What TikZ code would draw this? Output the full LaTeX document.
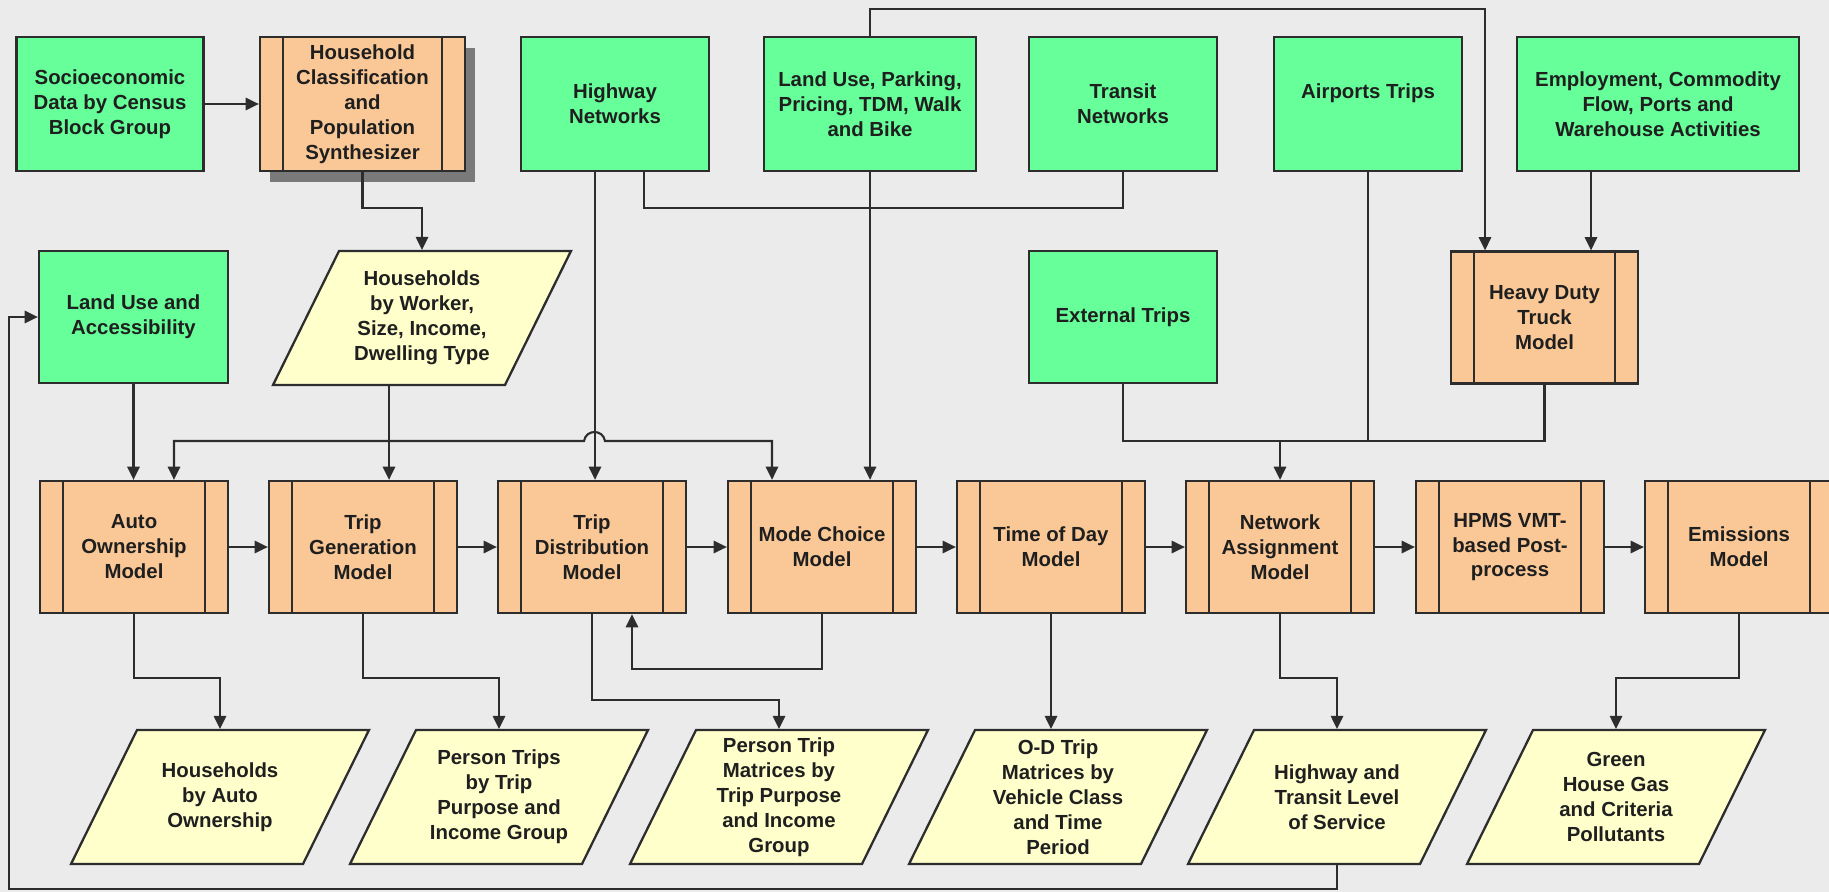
\documentclass[tikz,border=0pt]{standalone}
\usepackage{fontspec}
\setmainfont{Liberation Sans}
\usetikzlibrary{positioning}
\usetikzlibrary{shadows}
\usetikzlibrary{arrows.meta}

\definecolor{bgcol}{RGB}{235,235,235}
\definecolor{datagreen}{RGB}{102,255,153}
\definecolor{modelorange}{RGB}{250,200,150}
\definecolor{outyellow}{RGB}{255,255,204}
\definecolor{linecol}{RGB}{45,45,45}

\begin{document}
\begin{tikzpicture}[x=0.02cm, y=-0.02cm, line width=1.2pt, color=linecol,
  >={Triangle[length=7.5pt,width=7pt]},
  every node/.style={font=\fontsize{11.6}{14.2}\selectfont\bfseries, text=black!88, align=center, inner sep=1pt},
  input/.style={rectangle, draw=linecol, line width=1.3pt, fill=datagreen, minimum width=3.76cm, minimum height=2.68cm},
  model/.style={rectangle, draw=linecol, line width=1.3pt, fill=modelorange, minimum width=3.76cm, minimum height=2.64cm,
    path picture={
      \draw[linecol] ([xshift=0.46cm]path picture bounding box.north west) -- ([xshift=0.46cm]path picture bounding box.south west);
      \draw[linecol] ([xshift=-0.46cm]path picture bounding box.north east) -- ([xshift=-0.46cm]path picture bounding box.south east);
    }},
  output/.style={rectangle, minimum width=6.04cm, minimum height=2.76cm, outer ysep=-0.02cm,
    path picture={
      \filldraw[fill=outyellow, draw=linecol, line width=1.3pt]
        ([xshift=1.36cm, yshift=-0.04cm]path picture bounding box.north west)
        -- ([xshift=-0.04cm, yshift=-0.04cm]path picture bounding box.north east)
        -- ([xshift=-1.36cm, yshift=0.04cm]path picture bounding box.south east)
        -- ([xshift=0.04cm, yshift=0.04cm]path picture bounding box.south west) -- cycle;
    }}]

  \useasboundingbox (0,0) rectangle (1829,892);
  \clip (0,0) rectangle (1829,892);
  \fill[bgcol] (0,0) rectangle (1829,892);

  % inputs
  \node[input, minimum width=3.74cm] (socio) at (110,104) {Socioeconomic\\Data by Census\\Block Group};
  \node[model, minimum width=4.1cm, minimum height=2.68cm,
    drop shadow={shadow xshift=0.2cm, shadow yshift=-0.22cm, fill=black!52, opacity=1}] (hhclass) at (362.5,104)
    {Household\\Classification\\and\\Population\\Synthesizer};
  \node[input] (highway) at (615,104) {Highway\\Networks};
  \node[input, minimum width=4.24cm] (landpark) at (870,104) {Land Use, Parking,\\Pricing, TDM, Walk\\and Bike};
  \node[input] (transit) at (1123,104) {Transit\\Networks};
  \node[input] (airport) at (1368,104) {Airports Trips\\~};
  \node[input, minimum width=5.64cm] (employ) at (1658,104) {Employment, Commodity\\Flow, Ports and\\Warehouse Activities};

  \node[input, minimum width=3.78cm, minimum height=2.64cm] (landacc) at (133.5,317) {Land Use and\\Accessibility};
  \node[output] (hhtype) at (422,318) {Households\\by Worker,\\Size, Income,\\Dwelling Type};
  \node[input, minimum height=2.64cm] (external) at (1123,317) {External Trips};
  \node[model, minimum width=3.74cm] (truck) at (1544.5,317.5) {Heavy Duty\\Truck\\Model};

  % models
  \node[model] (autoown) at (134,547) {Auto\\Ownership\\Model};
  \node[model] (tripgen) at (363,547) {Trip\\Generation\\Model};
  \node[model] (tripdist) at (592,547) {Trip\\Distribution\\Model};
  \node[model] (modech) at (822,547) {Mode Choice\\Model};
  \node[model] (timeday) at (1051,547) {Time of Day\\Model};
  \node[model] (netassign) at (1280,547) {Network\\Assignment\\Model};
  \node[model] (hpms) at (1510,547) {HPMS VMT-\\based Post-\\process};
  \node[model] (emiss) at (1739,547) {Emissions\\Model};

  % outputs
  \node[output] (hhauto) at (220,797) {Households\\by Auto\\Ownership};
  \node[output] (persontrip) at (499,797) {Person Trips\\by Trip\\Purpose and\\Income Group};
  \node[output] (ptmatrix) at (779,797) {Person Trip\\Matrices by\\Trip Purpose\\and Income\\Group};
  \node[output] (odmatrix) at (1058,797) {O-D Trip\\Matrices by\\Vehicle Class\\and Time\\Period};
  \node[output] (los) at (1337,797) {Highway and\\Transit Level\\of Service};
  \node[output] (ghg) at (1616,797) {Green\\House Gas\\and Criteria\\Pollutants};

  \coordinate (hopL) at (584,441);
  \coordinate (hopR) at (605,441);
  \coordinate (busR) at (1280,440);
  \coordinate (loopcorner) at (9,889);

  % top part
  \draw[->] (socio) -- (hhclass);
  \draw[->] (hhclass.south) -- ++(0,36) -| (hhtype.north);
  \draw[->] (landacc.south) -- (landacc.south |- autoown.north);
  \draw[->] ([xshift=-0.66cm]hhtype.south) -- ([xshift=-0.66cm]hhtype.south |- tripgen.north);
  \draw[->] ([xshift=-0.4cm]highway.south) -- ([xshift=-0.4cm]highway.south |- tripdist.north);
  \draw ([xshift=0.58cm]highway.south) -- ++(0,36) -| (transit.south);
  \draw[->] (landpark.south) -- (landpark.south |- modech.north);
  \draw[->] (landpark.north) -- ++(0,-27) -| ([xshift=-1.19cm]truck.north);
  \draw[->] ([xshift=-1.34cm]employ.south) -- ([xshift=-1.34cm]employ.south |- truck.north);
  \draw[<->] ([xshift=0.8cm]autoown.north) |- (hopL) .. controls +(2,-12) and +(-2,-12) .. (hopR)
    -| ([xshift=-1cm]modech.north);
  \draw (external.south) -- ++(0,57) -| (truck.south);
  \draw (airport.south) -- (airport.south |- busR);
  \draw[->] (busR) -- (netassign.north);

  % model chain
  \draw[->] (autoown) -- (tripgen);
  \draw[->] (tripgen) -- (tripdist);
  \draw[->] (tripdist) -- (modech);
  \draw[->] (modech) -- (timeday);
  \draw[->] (timeday) -- (netassign);
  \draw[->] (netassign) -- (hpms);
  \draw[->] (hpms) -- (emiss);

  % outputs
  \draw[->] (autoown.south) -- ++(0,64) -| (hhauto.north);
  \draw[->] (tripgen.south) -- ++(0,64) -| (persontrip.north);
  \draw[->] (tripdist.south) -- ++(0,86) -| (ptmatrix.north);
  \draw[->] (modech.south) -- ++(0,55) -| ([xshift=0.8cm]tripdist.south);
  \draw[->] (timeday.south) -- (timeday.south |- odmatrix.north);
  \draw[->] (netassign.south) -- ++(0,64) -| (los.north);
  \draw[->] (emiss.south) -- ++(0,64) -| (ghg.north);
  \draw[->] (los.south) |- (loopcorner) |- (landacc.west);
\end{tikzpicture}
\end{document}
